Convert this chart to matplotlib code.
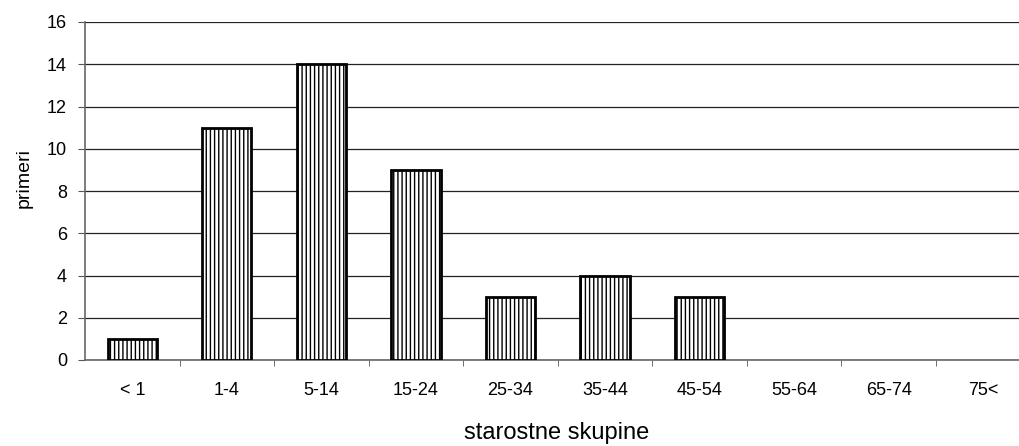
import matplotlib.pyplot as plt
import numpy as np

plt.rcParams['font.family'] = ['Liberation Sans', 'DejaVu Sans']
plt.rcParams['hatch.linewidth'] = 1.0

# starostne skupine in število primerov
skupine = ["< 1", "1-4", "5-14", "15-24", "25-34", "35-44", "45-54", "55-64", "65-74", "75<"]
primeri = [1, 11, 14, 9, 3, 4, 3, 0, 0, 0]

fig = plt.figure(figsize=(10.19, 4.46), dpi=100)
# os sega čez desni rob slike (kot v izvirniku)
ax = fig.add_axes([85 / 1019, 1 - 360 / 446, 945.6 / 1019, 338 / 446])

x = np.arange(len(skupine))
vals = np.array(primeri)
nz = vals > 0  # ničelnih stolpcev ne rišemo
ax.bar(x[nz], vals[nz], width=0.52, color='white', edgecolor='black',
       linewidth=2, hatch='||||', zorder=3)

ax.set_xlim(-0.5, len(skupine) - 0.5)
ax.set_ylim(0, 16)
ax.set_yticks(range(0, 17, 2))
ax.set_xticks(x)
ax.set_xticklabels(skupine, fontsize=13)
ax.set_xticks(np.arange(0.5, len(skupine) - 0.5, 1), minor=True)
ax.tick_params(axis='x', which='major', length=0, pad=16)
ax.tick_params(axis='x', which='minor', length=4.5, color='#555555', direction='out')
ax.tick_params(axis='y', length=5, color='#555555', direction='out', labelsize=13, pad=8)

ax.grid(axis='y', color='#222222', linewidth=0.9, zorder=0)
for s in ['top', 'right']:
    ax.spines[s].set_visible(False)
for s in ['left', 'bottom']:
    ax.spines[s].set_color('#666666')
    ax.spines[s].set_linewidth(1.2)

fig.text(557 / 1019, 1 - 433 / 446, "starostne skupine", fontsize=17, ha='center', va='center')
fig.text(24 / 1019, 1 - 178 / 446, "primeri", fontsize=14, rotation=90, ha='center', va='center')

fig.savefig("out.png", dpi=100)
